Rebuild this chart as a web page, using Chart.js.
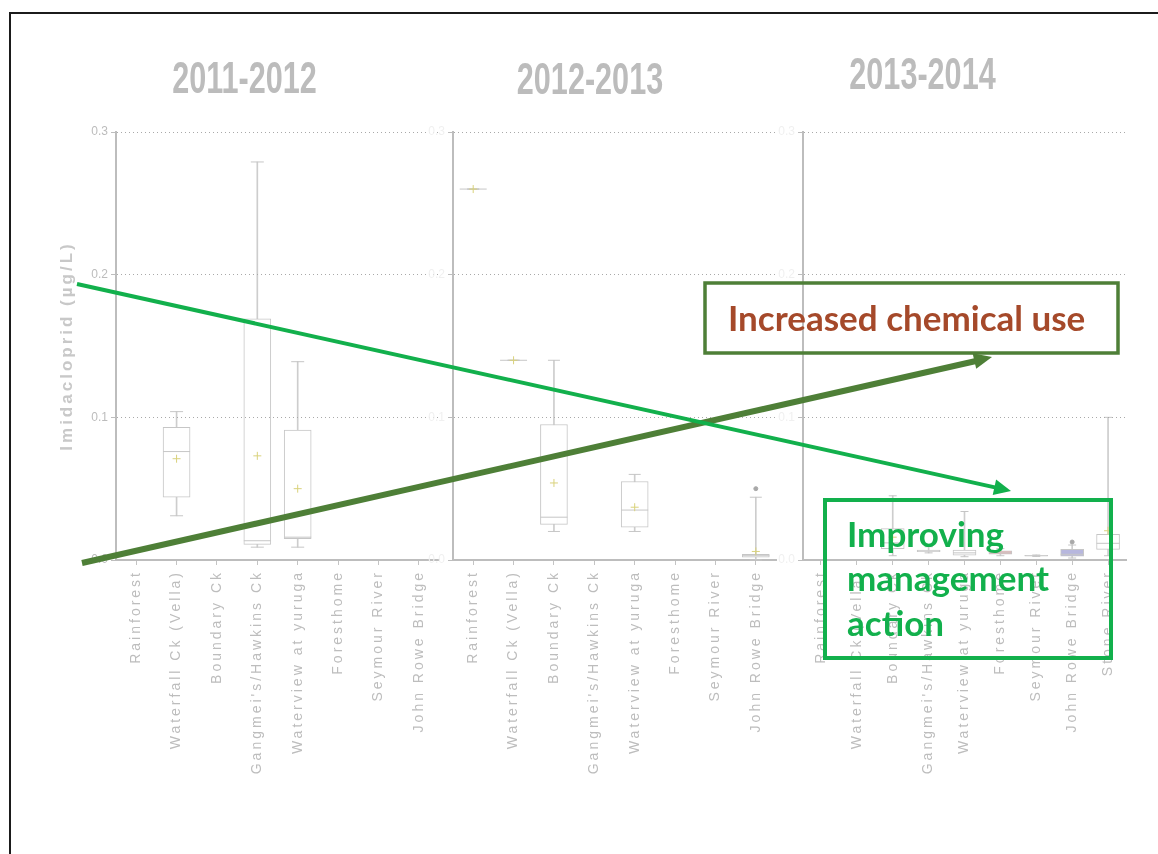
<!DOCTYPE html>
<html>
<head>
<meta charset="utf-8">
<script src="https://cdn.jsdelivr.net/npm/chart.js@4.4.1/dist/chart.umd.min.js"></script>
<style>
  html, body { margin: 0; padding: 0; background: #fff; width: 1158px; height: 854px; overflow: hidden; position: relative; }
  canvas { position: absolute; top: 0; }
  #frame { position: absolute; left: 9px; top: 12px; width: 1200px; height: 900px; border-top: 2px solid #1b1b1b; border-left: 2px solid #1b1b1b; }
  #notes { position: absolute; left: 0; top: 0; }
</style>
</head>
<body>
<div id="frame"></div>
<canvas id="c1" width="490" height="854" style="left:0px"></canvas>
<canvas id="c2" width="420" height="854" style="left:380px"></canvas>
<canvas id="c3" width="456" height="854" style="left:694px"></canvas>
<svg id="notes" width="1158" height="854">
  <line x1="82" y1="563" x2="976" y2="361" stroke="#4e7f37" stroke-width="6"/>
  <polygon points="992,357 976.2,368.8 972.6,353.2" fill="#4e7f37"/>
  <line x1="77" y1="284" x2="996" y2="487.6" stroke="#12b04c" stroke-width="4"/>
  <polygon points="1011,491 992.7,495.1 996.1,479.5" fill="#12b04c"/>
  <rect x="705" y="283" width="413" height="70" fill="none" stroke="#4e7f37" stroke-width="3.5"/>
  <text x="728" y="331" font-family="Lato" font-weight="bold" font-size="35" fill="#a5492a">Increased chemical use</text>
  <rect x="825" y="500" width="286" height="158" fill="none" stroke="#12b04c" stroke-width="4"/>
  <text font-family="Lato" font-weight="bold" font-size="35" fill="#12b04c">
    <tspan x="847" y="547">Improving</tspan>
    <tspan x="847" y="591">management</tspan>
    <tspan x="847" y="636">action</tspan>
  </text>
</svg>
<script>
const years = ['2011-2012', '2012-2013', '2013-2014'];
const sites = ['Rainforest', 'Waterfall Ck (Vella)', 'Boundary Ck', "Gangmei's/Hawkins Ck",
  'Waterview at yuruga', 'Foresthome', 'Seymour River', 'John Rowe Bridge'];
const sites2014 = sites.concat(['Stone River']);
const yTicks = [0, 0.1, 0.2, 0.3];
const yTitle = 'Imidacloprid (µg/L)';

// 2011-2012 box stats per site
const min2012 = [null, 0.031, null, 0.009, 0.009, null, null, null];
const q1_2012 = [null, 0.044, null, 0.011, 0.015, null, null, null];
const med2012 = [null, 0.076, null, 0.0135, 0.016, null, null, null];
const q3_2012 = [null, 0.093, null, 0.169, 0.091, null, null, null];
const max2012 = [null, 0.104, null, 0.279, 0.139, null, null, null];
const mean2012 = [null, 0.071, null, 0.073, 0.050, null, null, null];
const out2012 = [null, null, null, null, null, null, null, null];

// 2012-2013
const min2013 = [0.26, 0.14, 0.020, null, 0.020, null, null, 0.0];
const q1_2013 = [0.26, 0.14, 0.025, null, 0.023, null, null, 0.002];
const med2013 = [0.26, 0.14, 0.030, null, 0.035, null, null, 0.003];
const q3_2013 = [0.26, 0.14, 0.095, null, 0.055, null, null, 0.004];
const max2013 = [0.26, 0.14, 0.140, null, 0.060, null, null, 0.044];
const mean2013 = [0.26, 0.14, 0.054, null, 0.037, null, null, 0.006];
const out2013 = [null, null, null, null, null, null, null, 0.050];

// 2013-2014
const min2014 = [null, null, 0.003, 0.005, 0.0023, 0.003, 0.0025, 0.0014, 0.003];
const q1_2014 = [null, null, 0.008, 0.0058, 0.0033, 0.004, 0.0028, 0.0026, 0.0075];
const med2014 = [null, null, 0.012, 0.0064, 0.005, 0.005, 0.003, 0.004, 0.0117];
const q3_2014 = [null, null, 0.022, 0.007, 0.007, 0.0065, 0.0032, 0.0075, 0.018];
const max2014 = [null, null, 0.045, 0.0093, 0.034, 0.008, 0.0035, 0.0105, 0.100];
const mean2014 = [null, null, 0.016, null, null, null, null, null, 0.0205];
const out2014 = [null, null, null, null, null, null, null, 0.0126, null];

Chart.defaults.font.family = "'Liberation Sans', Arial, sans-serif";

const grey = '#c6c6c6';

// spread out the rotated texts like the stretched original
const spacing = {
  id: 'spacing',
  afterDatasetsDraw(chart) { chart.ctx.letterSpacing = '3px'; },
  afterDraw(chart) { chart.ctx.letterSpacing = '0px'; }
};

// the year titles are tall and narrow in the source image
const narrowTitle = {
  id: 'narrowTitle',
  afterInit(chart) {
    const t = chart.titleBlock;
    const draw = t.draw.bind(t);
    t.draw = function () {
      const ctx = chart.ctx;
      const cx = (t.left + t.right) / 2;
      ctx.save();
      ctx.translate(cx, 0);
      ctx.scale(0.68, 1);
      ctx.translate(-cx, 0);
      draw();
      ctx.restore();
    };
  }
};

function pair(a, b) {
  return a.map((v, i) => v == null ? null : [v, b[i]]);
}

function boxSets(d, boxW, capR, fills) {
  const pts = (data, style, r, color) => ({
    type: 'line', data, showLine: false, pointStyle: style, pointRadius: r,
    pointBorderColor: color, pointBackgroundColor: color, pointBorderWidth: 1, clip: false
  });
  return [
    pts(d.mean, 'cross', 4, '#d9d27c'),
    pts(d.out, 'circle', 2, '#a8a8a8'),
    pts(d.med, 'line', boxW / 2, grey),
    pts(d.max, 'line', capR, grey),
    pts(d.min, 'line', capR, grey),
    { type: 'bar', data: pair(d.q1, d.q3), barThickness: boxW, grouped: false,
      backgroundColor: fills, borderColor: grey, borderWidth: 1, borderSkipped: false },
    { type: 'bar', data: pair(d.min, d.max), barThickness: 1, grouped: false,
      backgroundColor: '#cdcdcd', borderWidth: 0 }
  ];
}

function panel(id, cfg) {
  const yScale = {
    min: 0, max: 0.3,
    afterBuildTicks: s => { s.ticks = yTicks.map(v => ({ value: v })); },
    afterFit: s => { s.width = cfg.yWidth; },
    ticks: { color: cfg.tickColor, padding: 3, callback: v => v.toFixed(1),
      font: { family: "'Liberation Sans Narrow', 'Liberation Sans', sans-serif", size: 12 } },
    grid: { z: 1, tickLength: 5, tickColor: '#bdbdbd',
      color: c => c.tick && c.tick.value === 0 ? 'rgba(0,0,0,0)' : '#a9a9a9' },
    border: { z: 1, color: '#bdbdbd', width: 2, dash: [1, 3] },
    title: { display: !!cfg.yTitle, text: cfg.yTitle, color: '#c8c8c8',
      font: { size: 17, weight: 'bold' }, padding: { top: 7, bottom: 0 } }
  };
  return new Chart(document.getElementById(id), {
    type: 'bar',
    data: { labels: cfg.labels, datasets: boxSets(cfg.data, cfg.boxW, cfg.capR, cfg.fills) },
    options: {
      responsive: false,
      animation: false,
      events: [],
      layout: { padding: { left: cfg.padLeft, right: cfg.padRight, top: 0, bottom: 44 } },
      plugins: {
        legend: { display: false },
        tooltip: { enabled: false },
        title: {
          display: true, text: cfg.title, color: '#bcbcbc',
          font: { size: 45, weight: 'bold' },
          padding: { top: cfg.titleTop, bottom: 132 - cfg.titleTop - 54 }
        }
      },
      scales: {
        x: {
          offset: true,
          afterFit: s => { s.height = 250; },
          grid: { offset: false, drawOnChartArea: false, tickLength: 5, tickColor: '#c4c4c4' },
          border: { color: '#bdbdbd', width: 2 },
          ticks: { z: 1, autoSkip: false, minRotation: 90, maxRotation: 90, padding: 5,
            color: '#bdbdbd', font: { size: 14 } }
        },
        y: yScale
      }
    },
    plugins: [spacing, narrowTitle]
  });
}

panel('c1', {
  labels: sites, title: years[0], yTitle: yTitle, tickColor: '#bcbcbc',
  yWidth: 66, padLeft: 50, padRight: 51, titleTop: 54, boxW: 27, capR: 6.5,
  fills: '#ffffff',
  data: { min: min2012, q1: q1_2012, med: med2012, q3: q3_2012, max: max2012, mean: mean2012, out: out2012 }
});

panel('c2', {
  labels: sites, title: years[1], yTitle: '', tickColor: '#f0f0f0',
  yWidth: 49, padLeft: 24, padRight: 24, titleTop: 55, boxW: 27, capR: 6,
  fills: '#ffffff',
  data: { min: min2013, q1: q1_2013, med: med2013, q3: q3_2013, max: max2013, mean: mean2013, out: out2013 }
});

panel('c3', {
  labels: sites2014, title: years[2], yTitle: '', tickColor: '#f0f0f0',
  yWidth: 84, padLeft: 25, padRight: 24, titleTop: 50, boxW: 23, capR: 4,
  fills: ['#fff', '#fff', '#fff', '#fff', '#fff', '#eeb5b5', '#fff', '#b7b7de', '#fff'],
  data: { min: min2014, q1: q1_2014, med: med2014, q3: q3_2014, max: max2014, mean: mean2014, out: out2014 }
});
</script>
</body>
</html>
